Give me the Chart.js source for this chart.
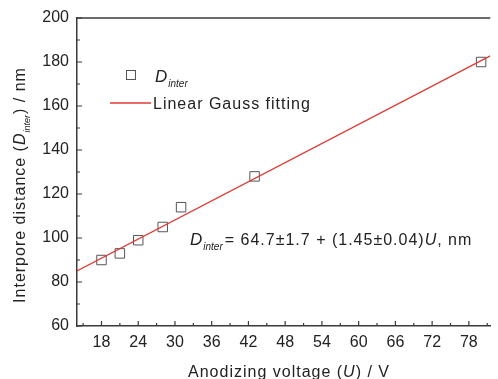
<!DOCTYPE html>
<html>
<head>
<meta charset="utf-8">
<script src="https://cdn.jsdelivr.net/npm/chart.js@4"></script>
<style>
  html, body { margin: 0; padding: 0; background: #fff; overflow: hidden; }
</style>
</head>
<body>
<canvas id="chart" width="498" height="379"></canvas>
<script>
// measured points
const voltage = [18, 21, 24, 28, 31, 43, 80];
const distance = [90, 93, 99, 105, 114, 128, 180];
// fitted line end points
const fitX = [14, 81.5];
const fitY = [85.0, 182.8];
const xTicks = [18, 24, 30, 36, 42, 48, 54, 60, 66, 72, 78];
const yTicks = [60, 80, 100, 120, 140, 160, 180, 200];

const FONT = '"Liberation Sans", Arial, sans-serif';
const AXIS = '#3a3a3a';

// draws a "D_inter" label at x, baseline y; returns end x
function drawDinter(ctx, x, y, size, sub) {
    ctx.font = 'italic ' + size + 'px ' + FONT;
    ctx.fillText('D', x, y);
    x += ctx.measureText('D').width;
    const ls = ctx.letterSpacing;
    ctx.letterSpacing = '0px';
    ctx.font = 'italic ' + sub + 'px ' + FONT;
    ctx.fillText('inter', x, y + 5);
    const w = ctx.measureText('inter').width;
    ctx.letterSpacing = ls;
    return x + w + 1;
}

// draws pieces [text, italic] one after another; returns end x
function drawRun(ctx, parts, x, y, size) {
    parts.forEach(p => {
        ctx.font = (p[1] ? 'italic ' : '') + size + 'px ' + FONT;
        ctx.fillText(p[0], x, y);
        x += ctx.measureText(p[0]).width;
    });
    return x;
}

function runWidth(ctx, parts, size) {
    let w = 0;
    parts.forEach(p => {
        ctx.font = (p[1] ? 'italic ' : '') + size + 'px ' + FONT;
        w += ctx.measureText(p[0]).width;
    });
    return w;
}

const extras = {
    id: 'extras',
    afterDraw(chart) {
        const ctx = chart.ctx;
        const a = chart.chartArea;
        const xs = chart.scales.x, ys = chart.scales.y;
        ctx.save();
        ctx.strokeStyle = AXIS;
        ctx.lineWidth = 1.5;
        // top frame line
        ctx.beginPath();
        ctx.moveTo(a.left, a.top);
        ctx.lineTo(a.right, a.top);
        ctx.stroke();
        // inward ticks
        ctx.lineWidth = 1.2;
        ctx.beginPath();
        xTicks.forEach(v => {
            const px = xs.getPixelForValue(v);
            ctx.moveTo(px, a.bottom); ctx.lineTo(px, a.bottom - 5);
            const pm = xs.getPixelForValue(v - 3);
            if (pm > a.left) { ctx.moveTo(pm, a.bottom); ctx.lineTo(pm, a.bottom - 3); }
        });
        const pl = xs.getPixelForValue(81);
        ctx.moveTo(pl, a.bottom); ctx.lineTo(pl, a.bottom - 3);
        yTicks.forEach(v => {
            const py = ys.getPixelForValue(v);
            ctx.moveTo(a.left, py); ctx.lineTo(a.left + 5, py);
            if (v > yTicks[0]) {
                const pm = ys.getPixelForValue(v - 10);
                ctx.moveTo(a.left, pm); ctx.lineTo(a.left + 3, pm);
            }
        });
        ctx.stroke();

        ctx.fillStyle = '#222';
        ctx.textBaseline = 'alphabetic';
        ctx.textAlign = 'left';
        ctx.letterSpacing = '1px';

        // legend
        ctx.strokeStyle = '#555';
        ctx.lineWidth = 1;
        ctx.strokeRect(126.5, 70.5, 9, 9);
        drawDinter(ctx, 155, 82, 17, 10);
        ctx.strokeStyle = '#e03a35';
        ctx.lineWidth = 1.3;
        ctx.beginPath();
        ctx.moveTo(110, 103); ctx.lineTo(151, 103);
        ctx.stroke();
        ctx.font = '16px ' + FONT;
        ctx.fillText('Linear Gauss fitting', 153, 109);

        // equation
        let x = drawDinter(ctx, 190, 245, 17, 10);
        drawRun(ctx, [['= 64.7\u00b11.7 + (1.45\u00b10.04)', false], ['U', true], [', nm', false]], x + 1, 245, 16);

        // x title
        const xt = [['Anodizing voltage (', false], ['U', true], [') / V', false]];
        drawRun(ctx, xt, 289 - runWidth(ctx, xt, 16) / 2, 377, 16);

        // y title (rotated)
        ctx.translate(25, 185);
        ctx.rotate(-Math.PI / 2);
        const q1 = [['Interpore distance (', false]];
        const q3 = [[') / nm', false]];
        const w1 = runWidth(ctx, q1, 16), w3 = runWidth(ctx, q3, 16);
        ctx.font = 'italic 16px ' + FONT;
        const wd = ctx.measureText('D').width;
        ctx.letterSpacing = '0px';
        ctx.font = 'italic 9px ' + FONT;
        const wi = ctx.measureText('inter').width + 1;
        ctx.letterSpacing = '1px';
        let ty = -(w1 + wd + wi + w3) / 2;
        ty = drawRun(ctx, q1, ty, 0, 16);
        ty = drawDinter(ctx, ty, 0, 16, 9);
        drawRun(ctx, q3, ty, 0, 16);
        ctx.restore();
    }
};

new Chart(document.getElementById('chart'), {
    type: 'scatter',
    data: {
        datasets: [
            {
                label: 'Linear Gauss fitting',
                type: 'line',
                data: fitX.map((v, i) => ({ x: v, y: fitY[i] })),
                borderColor: '#e03a35',
                borderWidth: 1.3,
                pointRadius: 0,
                fill: false
            },
            {
                label: 'D inter',
                data: voltage.map((v, i) => ({ x: v, y: distance[i] })),
                pointStyle: 'rect',
                pointRadius: 6.7,
                pointHoverRadius: 6.7,
                borderColor: '#555',
                borderWidth: 1,
                backgroundColor: 'rgba(0,0,0,0)'
            }
        ]
    },
    options: {
        responsive: false,
        animation: false,
        layout: { padding: { top: 18, left: 0, right: 0, bottom: 0 } },
        plugins: { legend: { display: false }, tooltip: { enabled: false } },
        scales: {
            x: {
                type: 'linear',
                min: 14,
                max: 81.5,
                afterBuildTicks: s => { s.ticks = xTicks.map(v => ({ value: v })); },
                afterFit: s => { s.height = 53; },
                grid: { drawOnChartArea: false, drawTicks: false },
                border: { color: AXIS, width: 1.5 },
                ticks: { color: '#222', font: { family: FONT, size: 16 }, padding: 7, maxRotation: 0 }
            },
            y: {
                min: 60,
                max: 200,
                afterBuildTicks: s => { s.ticks = yTicks.map(v => ({ value: v })); },
                afterFit: s => { s.width = 77; },
                grid: { drawOnChartArea: false, drawTicks: false },
                border: { color: AXIS, width: 1.5 },
                ticks: { color: '#222', font: { family: FONT, size: 16 }, padding: 8 }
            }
        }
    },
    plugins: [extras]
});
</script>
</body>
</html>
